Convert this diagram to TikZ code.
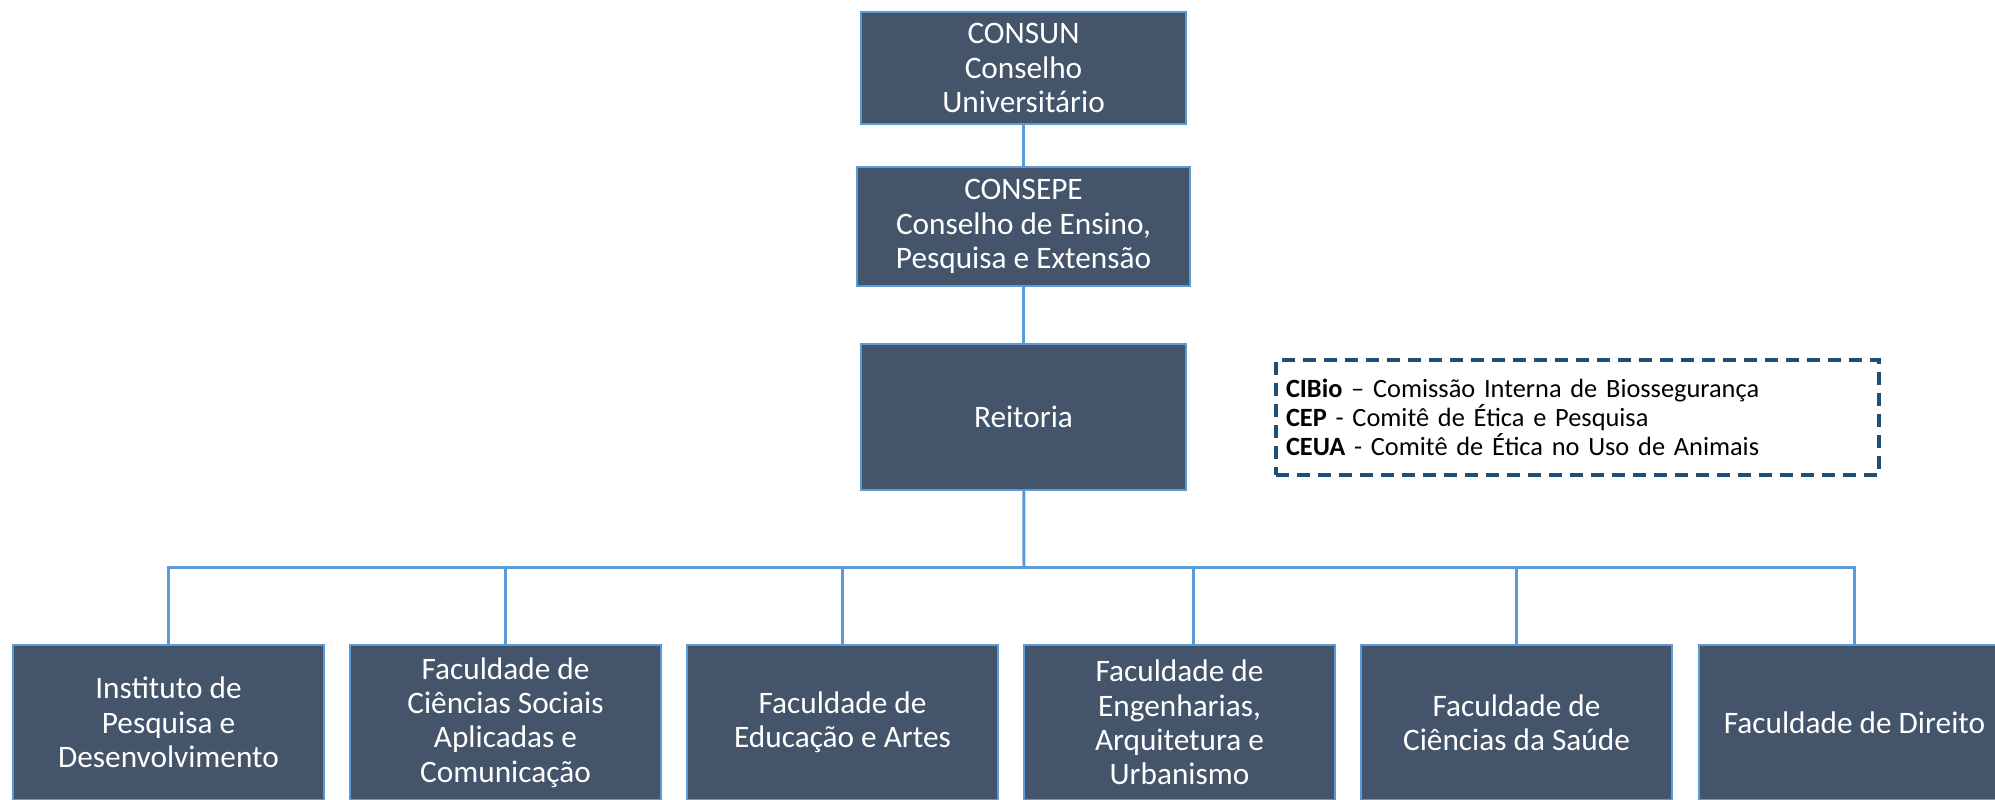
\documentclass[tikz,border=0pt]{standalone}
\usepackage{fontspec}
\setmainfont{Carlito}
\usetikzlibrary{positioning}
\definecolor{boxfill}{HTML}{44546A}
\definecolor{boxline}{HTML}{5B9BD5}
\definecolor{legline}{HTML}{1F4E79}
\tikzset{orgbox/.style={draw=boxline, line width=0.55pt, fill=boxfill, text=white, align=center, inner sep=0pt, font=\fontsize{8.9}{9.8}\selectfont}}
\tikzset{unitbox/.style={orgbox, minimum width=31.1mm, minimum height=15.5mm}}
\tikzset{legendbox/.style={draw=legline, line width=1pt, dash pattern=on 1.3mm off 0.8mm, align=left, inner xsep=1mm, inner ysep=0pt, text width=58.3mm, minimum height=11.5mm, font=\fontsize{7.5}{8.3}\selectfont}}
\tikzset{link/.style={draw=boxline, line width=0.85pt}}

\begin{document}
\begin{tikzpicture}[x=0.1mm, y=-0.1mm]
    \useasboundingbox (0,0) rectangle (1995,800);
    \clip (0,0) rectangle (1995,800);

    % councils and rectorate
    \node[orgbox, minimum width=32.5mm, minimum height=11.2mm] (consun) at (1023.5,68) {CONSUN\\Conselho\\Universitário};
    \node[orgbox, minimum width=33.3mm, minimum height=11.9mm] (consepe) at (1023.5,226.5) {CONSEPE\\Conselho de Ensino,\\Pesquisa e Extensão};
    \node[orgbox, minimum width=32.5mm, minimum height=14.6mm] (reit) at (1023.5,417) {Reitoria};

    \node[legendbox] (leg) at (1577.5,417.5) {\textbf{CIBio} -- Comissão Interna de Biossegurança\\\textbf{CEP} - Comitê de Ética e Pesquisa\\\textbf{CEUA} - Comitê de Ética no Uso de Animais};

    % units
    \node[unitbox] (u1) at (168.5,722.5) {Instituto de\\Pesquisa e\\Desenvolvimento};
    \node[unitbox] (u2) at (505.5,722.5) {Faculdade de\\Ciências Sociais\\Aplicadas e\\Comunicação};
    \node[unitbox] (u3) at (842.5,722.5) {Faculdade de\\Educação e Artes};
    \node[unitbox] (u4) at (1179.5,722.5) {Faculdade de\\Engenharias,\\Arquitetura e\\Urbanismo};
    \node[unitbox] (u5) at (1516.5,722.5) {Faculdade de\\Ciências da Saúde};
    \node[unitbox] (u6) at (1854.5,722.5) {Faculdade de Direito};

    \coordinate (bus) at (1024,568);

    \begin{scope}[link]
        \draw (consun) -- (consepe);
        \draw (consepe) -- (reit);
        \draw (reit) -- (bus);
        \foreach \u in {u1,u2,u3,u5,u6}
            \draw (\u.north) |- (bus);
        \draw ([xshift=1.4mm]u4.north) |- (bus);
    \end{scope}
\end{tikzpicture}
\end{document}
